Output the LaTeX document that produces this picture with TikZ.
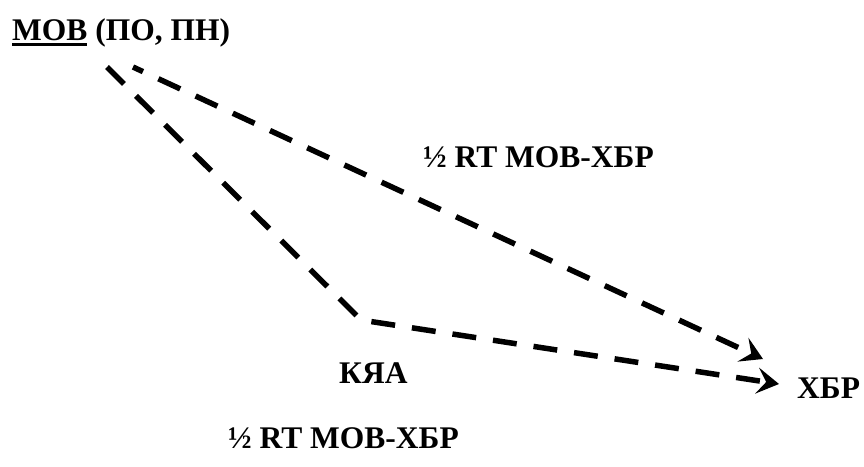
\documentclass[tikz,border=0pt]{standalone}
\usepackage{fontspec}
\setmainfont{Liberation Serif}
\usetikzlibrary{arrows.meta}
\newcommand\thickul[1]{\setbox0\hbox{#1}\rlap{\rule[-6pt]{\wd0}{2.6pt}}\box0\relax}
\tikzset{
  lbl/.style={anchor=base west, inner sep=0pt, font=\bfseries\fontsize{31.5}{36}\selectfont},
  route/.style={line width=5.5pt, dash pattern=on 24pt off 17pt, line join=miter},
  routearrow/.style={route, -{Stealth[length=22pt, width=26pt, inset=9pt]}}
}
\begin{document}
\begin{tikzpicture}[x=1pt, y=-1pt]
  \useasboundingbox (0,0) rectangle (864,466);
  % labels
  \node[lbl] (mob) at (12,40) {\thickul{МОВ} (ПО, ПН)};
  \node[lbl] (rtup) at (423,167) {½ RT МОВ-ХБР};
  \node[lbl] (kya) at (339,383) {КЯА};
  \node[lbl] (hbr) at (797,398) {ХБР};
  \node[lbl] (rtdown) at (228,448) {½ RT МОВ-ХБР};
  % route end points
  \coordinate (startA) at (133,67);
  \coordinate (startB) at (107,67);
  \coordinate (corner) at (361,320);
  \coordinate (tipA) at (763,359);
  \coordinate (tipB) at (779,384);
  % direct route
  \draw[routearrow, dash phase=13pt] (startA) -- (tipA);
  % route via the corner point
  \draw[routearrow] (startB) -- (corner) -- (tipB);
\end{tikzpicture}
\end{document}
